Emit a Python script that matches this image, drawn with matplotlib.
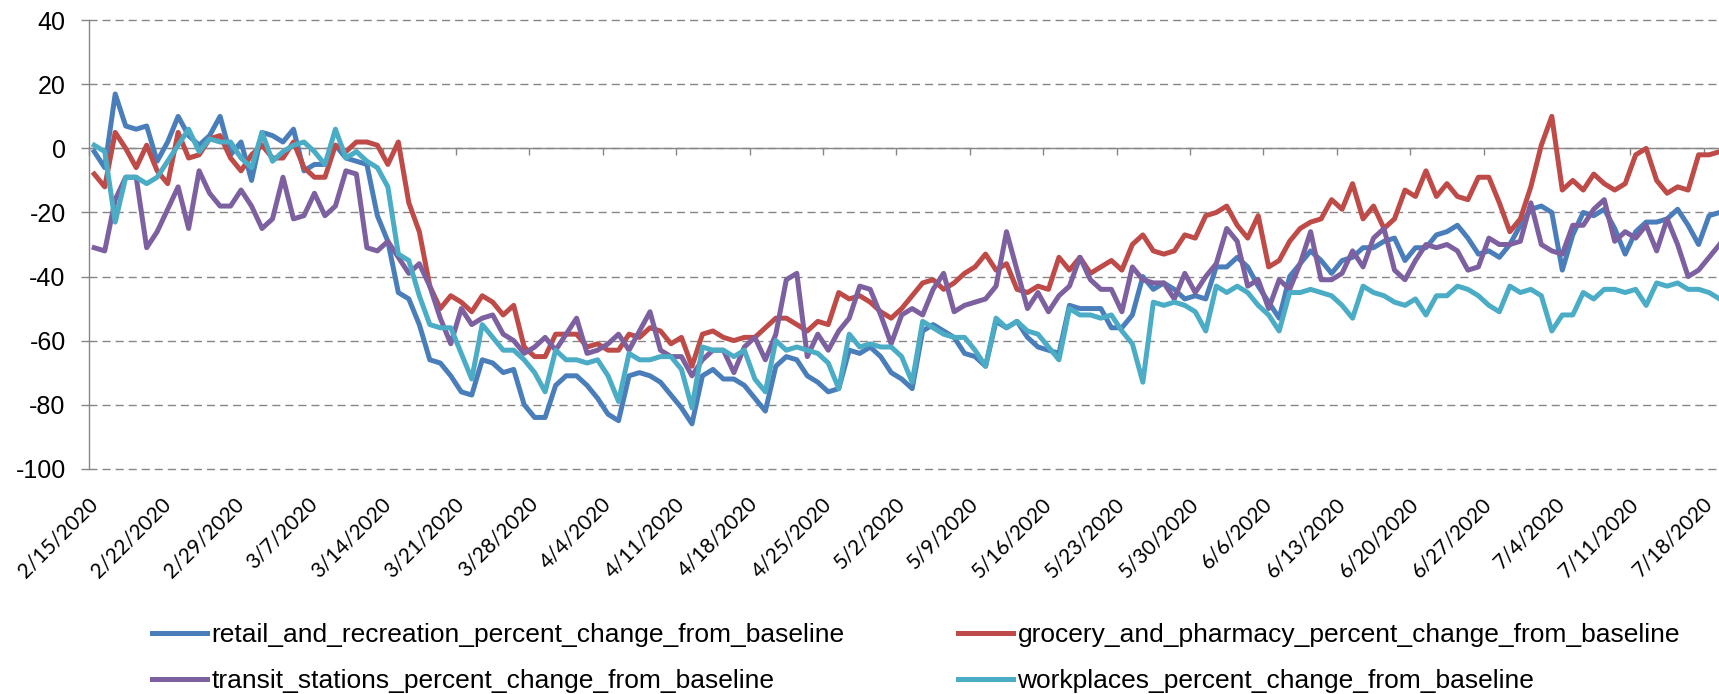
import numpy as np
import pandas as pd
import matplotlib
matplotlib.use("Agg")
import matplotlib.pyplot as plt

plt.rcParams['font.family'] = ['Liberation Sans', 'DejaVu Sans']
plt.rcParams['axes.unicode_minus'] = False

# daily categories, 2/15/2020 .. 7/19/2020
dates = pd.date_range("2020-02-15", periods=156, freq="D")
date_labels = [f"{d.month}/{d.day}/{d.year}" for d in dates]

retail = [-1, -6, 17, 7, 6, 7, -4, 2, 10, 4,
          1, 4, 10, -2, 2, -10, 5, 4, 2, 6,
          -7, -5, -5, 1, -3, -4, -5, -21, -29, -45,
          -47, -55, -66, -67, -71, -76, -77, -66, -67, -70,
          -69, -80, -84, -84, -74, -71, -71, -74, -78, -83,
          -85, -71, -70, -71, -73, -77, -81, -86, -71, -69,
          -72, -72, -74, -78, -82, -68, -65, -66, -71, -73,
          -76, -75, -63, -64, -62, -65, -70, -72, -75, -57,
          -55, -57, -59, -64, -65, -68, -54, -56, -54, -59,
          -62, -63, -64, -49, -50, -50, -50, -56, -56, -52,
          -40, -44, -42, -44, -47, -46, -47, -37, -37, -34,
          -37, -43, -48, -53, -40, -36, -32, -35, -39, -35,
          -34, -31, -31, -29, -28, -35, -31, -31, -27, -26,
          -24, -28, -33, -32, -34, -30, -24, -19, -18, -20,
          -38, -27, -20, -21, -19, -25, -33, -26, -23, -23,
          -22, -19, -24, -30, -21, -20]

grocery = [-8, -12, 5, 0, -6, 1, -7, -11, 5, -3,
           -2, 3, 4, -3, -7, -2, 1, -3, -3, 2,
           -6, -9, -9, 1, -1, 2, 2, 1, -5, 2,
           -17, -26, -43, -50, -46, -48, -51, -46, -48, -52,
           -49, -62, -65, -65, -58, -58, -58, -62, -61, -63,
           -63, -58, -59, -56, -57, -61, -59, -68, -58, -57,
           -59, -60, -59, -59, -56, -53, -53, -55, -57, -54,
           -55, -45, -47, -46, -48, -51, -53, -50, -46, -42,
           -41, -44, -42, -39, -37, -33, -38, -36, -44, -45,
           -43, -44, -34, -38, -34, -39, -37, -35, -38, -30,
           -27, -32, -33, -32, -27, -28, -21, -20, -18, -24,
           -28, -21, -37, -35, -29, -25, -23, -22, -16, -19,
           -11, -22, -18, -25, -22, -13, -15, -7, -15, -11,
           -15, -16, -9, -9, -17, -26, -22, -12, 1, 10,
           -13, -10, -13, -8, -11, -13, -11, -2, 0, -10,
           -14, -12, -13, -2, -2, -1]

transit = [-31, -32, -16, -9, -9, -31, -26, -19, -12, -25,
           -7, -14, -18, -18, -13, -18, -25, -22, -9, -22,
           -21, -14, -21, -18, -7, -8, -31, -32, -29, -34,
           -39, -36, -43, -53, -61, -50, -55, -53, -52, -58,
           -60, -64, -62, -59, -63, -58, -53, -64, -63, -61,
           -58, -63, -57, -51, -63, -65, -65, -71, -66, -63,
           -63, -70, -62, -59, -66, -58, -41, -39, -65, -58,
           -63, -57, -53, -43, -44, -52, -61, -52, -50, -52,
           -44, -39, -51, -49, -48, -47, -43, -26, -38, -50,
           -45, -51, -46, -43, -34, -41, -44, -44, -51, -37,
           -41, -42, -42, -47, -39, -45, -40, -36, -25, -29,
           -43, -41, -50, -41, -44, -36, -26, -41, -41, -39,
           -32, -37, -28, -25, -38, -41, -35, -30, -31, -30,
           -32, -38, -37, -28, -30, -30, -29, -17, -30, -32,
           -33, -24, -24, -19, -16, -29, -26, -28, -24, -32,
           -22, -30, -40, -38, -34, -30]

workplaces = [1, -1, -23, -9, -9, -11, -9, -4, 1, 6,
              -1, 3, 2, 2, -3, -6, 5, -4, -1, 1,
              2, -1, -5, 6, -3, -1, -4, -6, -12, -33,
              -35, -46, -55, -56, -56, -64, -72, -55, -59, -63,
              -63, -66, -70, -76, -63, -66, -66, -67, -66, -71,
              -79, -64, -66, -66, -65, -65, -69, -81, -62, -63,
              -63, -65, -63, -72, -76, -60, -63, -62, -63, -64,
              -67, -75, -58, -62, -61, -62, -62, -65, -73, -54,
              -56, -58, -59, -59, -63, -68, -53, -56, -54, -57,
              -58, -62, -66, -50, -52, -52, -53, -52, -57, -61,
              -73, -48, -49, -48, -49, -51, -57, -43, -45, -43,
              -45, -49, -52, -57, -45, -45, -44, -45, -46, -49,
              -53, -43, -45, -46, -48, -49, -47, -52, -46, -46,
              -43, -44, -46, -49, -51, -43, -45, -44, -46, -57,
              -52, -52, -45, -47, -44, -44, -45, -44, -49, -42,
              -43, -42, -44, -44, -45, -47]

series_names = ["retail_and_recreation_percent_change_from_baseline",
                "grocery_and_pharmacy_percent_change_from_baseline",
                "transit_stations_percent_change_from_baseline",
                "workplaces_percent_change_from_baseline"]
series_colors = ["#4A7EBB", "#BE4B48", "#7D60A0", "#4BACC6"]
y_ticks = list(range(-100, 41, 20))

GRAY = "#868686"
W, H = 1719, 694

fig = plt.figure(figsize=(W / 100, H / 100), dpi=100)
ax = fig.add_axes([89 / W, 1 - 468.7 / H, (W - 89) / W, 448.4 / H])

x = np.arange(len(dates))
lines = []
for vals, name, col in zip([retail, grocery, transit, workplaces], series_names, series_colors):
    ln, = ax.plot(x, vals, color=col, lw=3.6, label=name, solid_joinstyle="round")
    lines.append(ln)

ax.set_xlim(-0.5, (W - 89) / 10.486 - 0.5)
ax.set_ylim(-100, 40)

# y axis
ax.set_yticks(y_ticks)
ax.yaxis.grid(True, color=GRAY, lw=1.0, ls=(0, (5.8, 3.6)))
ax.set_axisbelow(True)
for gl in ax.get_ygridlines():
    gl.set_clip_on(False)
for s in ["top", "right", "bottom"]:
    ax.spines[s].set_visible(False)
ax.spines["left"].set_color(GRAY)
ax.spines["left"].set_linewidth(1.0)
ax.tick_params(axis="y", direction="out", length=5.8, width=1.0, color=GRAY,
               pad=11, labelsize=18)

# date labels at the bottom, one per week
lab_idx = x[::7]
ax.set_xticks(lab_idx)
ax.set_xticklabels([date_labels[i] for i in lab_idx], rotation=45, ha="right",
                   va="center", rotation_mode="anchor", fontfamily="Lato", fontsize=15)
ax.tick_params(axis="x", length=0, pad=23)

# category axis crossing at 0, tick marks between categories
sec = ax.secondary_xaxis(100 / 140)
sec.set_alignment("bottom")
sec.set_xticks(np.arange(-0.5, len(dates), 7))
sec.tick_params(direction="out", length=5, width=1.0, color=GRAY,
                labelbottom=False, labeltop=False)
sec.spines["bottom"].set_color(GRAY)
sec.spines["bottom"].set_linewidth(1.0)

leg_font = {"family": "Liberation Sans", "size": 19}
leg_kw = dict(loc="upper left", frameon=False, borderpad=0, borderaxespad=0,
              handlelength=2.1, handletextpad=0.15, labelspacing=0.85, prop=leg_font)
fig.legend([lines[0], lines[2]], [series_names[0], series_names[2]],
           bbox_to_anchor=(152 / W, 1 - 623 / H), **leg_kw)
fig.legend([lines[1], lines[3]], [series_names[1], series_names[3]],
           bbox_to_anchor=(958 / W, 1 - 623 / H), **leg_kw)

fig.savefig("out.png", dpi=100)
